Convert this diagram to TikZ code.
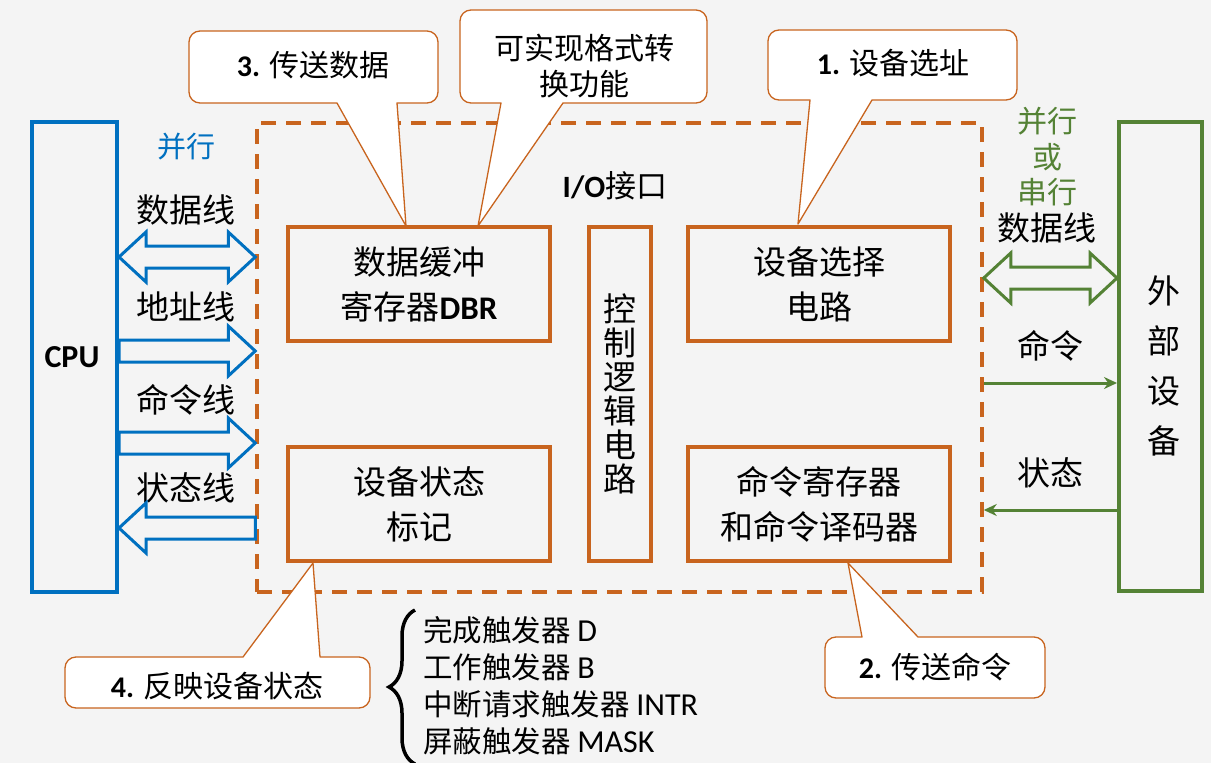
\documentclass[tikz,border=0pt]{standalone}
\usepackage{fontspec}
\setmainfont{Noto Sans CJK SC}
\newfontfamily\lat{Carlito}
\usetikzlibrary{arrows.meta,calc,decorations.pathreplacing}
\definecolor{cBlue}{RGB}{0,112,192}
\definecolor{cOr}{RGB}{200,100,30}
\definecolor{cGr}{RGB}{84,130,53}
\definecolor{cBg}{RGB}{244,244,244}
\newcommand\fs[2]{\fontsize{#1}{#2}\selectfont}
% hollow block arrows: style, first point, second point
\newcommand\arrR[3]{\draw[#1] let \p1=(#2), \p2=(#3) in
  (\x1,\y1+11pt) -- (\x2-27pt,\y1+11pt) -- (\x2-27pt,\y1+25pt) -- (\x2,\y1)
  -- (\x2-27pt,\y1-25pt) -- (\x2-27pt,\y1-11pt) -- (\x1,\y1-11pt) -- cycle;}
\newcommand\arrL[3]{\draw[#1] let \p1=(#2), \p2=(#3) in
  (\x1,\y1+11pt) -- (\x2+27pt,\y1+11pt) -- (\x2+27pt,\y1+25pt) -- (\x2,\y1)
  -- (\x2+27pt,\y1-25pt) -- (\x2+27pt,\y1-11pt) -- (\x1,\y1-11pt) -- cycle;}
\newcommand\arrD[3]{\draw[#1] let \p1=(#2), \p2=(#3) in
  (\x1,\y1) -- (\x1+27pt,\y1+25pt) -- (\x1+27pt,\y1+11pt) -- (\x2-27pt,\y1+11pt)
  -- (\x2-27pt,\y1+25pt) -- (\x2,\y1) -- (\x2-27pt,\y1-25pt) -- (\x2-27pt,\y1-11pt)
  -- (\x1+27pt,\y1-11pt) -- (\x1+27pt,\y1-25pt) -- cycle;}
\begin{document}
\begin{tikzpicture}[x=1pt,y=-1pt,
  obox/.style={draw=cOr, line width=4pt, align=center, font=\fs{33}{45}, inner sep=0pt},
  cpubox/.style={draw=cBlue, line width=4pt, inner sep=0pt},
  extbox/.style={draw=cGr, line width=4pt, inner sep=0pt},
  iobox/.style={draw=cOr, line width=3.5pt, dash pattern=on 15pt off 10pt, inner sep=0pt},
  lbl/.style={font=\fs{33}{40}, inner sep=0pt, align=center},
  callout/.style={draw=cOr, line width=1.3pt, fill=white, line join=round},
  ctext/.style={font=\fs{30}{36}, align=center, inner sep=0pt},
  blockB/.style={draw=cBlue, line width=3pt, fill=cBg},
  blockG/.style={draw=cGr, line width=3pt, fill=cBg},
  thinG/.style={draw=cGr, line width=3pt, -{Stealth[length=13pt,width=12pt]}},
  bracestyle/.style={decorate, decoration={brace, amplitude=26pt, aspect=0.5}, line width=3.5pt}
]
\fill[cBg] (0,0) rectangle (1211,763);
\useasboundingbox (0,0) rectangle (1211,763);

% main boxes
\node[cpubox, minimum width=85pt, minimum height=470pt] (cpu) at (74.5,357) {};
\node[font=\fs{32}{36}\lat\bfseries, inner sep=0pt] (cputxt) at (72,357) {CPU};
\node[extbox, minimum width=83pt, minimum height=469pt] (ext) at (1160.5,356.5) {};
\node[font=\fs{33}{50}, align=center, inner sep=0pt] (exttxt) at (1164,366) {外\\部\\设\\备};
\node[iobox, minimum width=725pt, minimum height=469pt] (io) at (619.5,357.5) {};
\node[lbl, font=\fs{31}{36}] (iotxt) at (615,186) {{\lat\bfseries I/O}接口};

\node[obox, minimum width=262pt, minimum height=114pt] (dbr) at (419,284) {数据缓冲\\寄存器{\lat\bfseries DBR}};
\node[obox, minimum width=62pt, minimum height=334pt, font=\fs{33}{34}] (ctl) at (620,394) {控\\制\\逻\\辑\\电\\路};
\node[obox, minimum width=262pt, minimum height=114pt] (sel) at (819,284) {设备选择\\电路};
\node[obox, minimum width=262pt, minimum height=114pt] (sta) at (419,504) {设备状态\\标记};
\node[obox, minimum width=262pt, minimum height=114pt] (cmd) at (819,504) {命令寄存器\\和命令译码器};

% left side labels
\node[lbl, font=\fs{29}{34}, text=cBlue] (lpar) at (186,147) {并行};
\node[lbl] (ldata) at (186,210) {数据线};
\node[lbl] (laddr) at (186,307) {地址线};
\node[lbl] (lcmd) at (186,400) {命令线};
\node[lbl] (lsta) at (186,488) {状态线};

% left block arrows
\coordinate (yA) at (0,257);
\coordinate (yB) at (0,351);
\coordinate (yC) at (0,443);
\coordinate (yD) at (0,528);
\arrD{blockB}{cpu.east |- yA}{io.west |- yA}
\arrR{blockB}{cpu.east |- yB}{io.west |- yB}
\arrR{blockB}{cpu.east |- yC}{io.west |- yC}
\arrL{blockB}{io.west |- yD}{cpu.east |- yD}

% right side labels
\node[lbl, font=\fs{30}{35.5}, text=cGr] (rpar) at (1047,157) {并行\\或\\串行};
\node[lbl] (rdata) at (1047,228) {数据线};
\node[lbl] (rcmd) at (1050,346) {命令};
\node[lbl] (rsta) at (1050,473) {状态};

% right arrows
\coordinate (yE) at (0,278);
\coordinate (yF) at (0,383);
\coordinate (yG) at (0,510);
\arrD{blockG}{io.east |- yE}{ext.west |- yE}
\draw[thinG] (io.east |- yF) -- (ext.west |- yF);
\draw[thinG] (ext.west |- yG) -- (io.east |- yG);

% callout 3
\coordinate (c3tip) at (406,226);
\draw[callout] (397,103) [rounded corners=11pt] -- (438,103) -- (438,31) -- (189,31) -- (189,103) [sharp corners] -- (337,103) -- (c3tip) -- cycle;
\node[ctext] (c3) at (313,65) {{\lat\bfseries 3.} 传送数据};

% callout format conversion
\coordinate (cftip) at (478,226);
\draw[callout] (563,103) [rounded corners=11pt] -- (707,103) -- (707,10) -- (460,10) -- (460,103) [sharp corners] -- (501,103) -- (cftip) -- cycle;
\node[ctext] (cf) at (584,66) {可实现格式转\\换功能};

% callout 1
\coordinate (c1tip) at (798,224);
\draw[callout] (872,100) [rounded corners=11pt] -- (1017,100) -- (1017,30) -- (768,30) -- (768,100) [sharp corners] -- (810,100) -- (c1tip) -- cycle;
\node[ctext] (c1) at (893,63) {{\lat\bfseries 1.} 设备选址};

% callout 4
\coordinate (c4tip) at (313,563);
\draw[callout] (243,657) [rounded corners=11pt] -- (65,657) -- (65,708) -- (370,708) -- (370,657) [sharp corners] -- (320,657) -- (c4tip) -- cycle;
\node[ctext] (c4) at (217,686) {{\lat\bfseries 4.} 反映设备状态};

% callout 2
\coordinate (c2tip) at (848,563);
\draw[callout] (862,637) [rounded corners=11pt] -- (825,637) -- (825,698) -- (1045,698) -- (1045,637) [sharp corners] -- (918,637) -- (c2tip) -- cycle;
\node[ctext] (c2) at (935,667) {{\lat\bfseries 2.} 传送命令};

% flag list
\node[anchor=west, align=left, font=\fs{29.5}{37}, inner sep=0pt] (list) at (423,686)
  {完成触发器 {\lat\fs{32}{37}D}\\工作触发器 {\lat\fs{32}{37}B}\\中断请求触发器 {\lat\fs{32}{37}INTR}\\屏蔽触发器 {\lat\fs{32}{37}MASK}};
\coordinate (brB) at (415,764);
\coordinate (brT) at (415,610);
\draw[bracestyle] (brB) -- (brT);
\end{tikzpicture}
\end{document}
